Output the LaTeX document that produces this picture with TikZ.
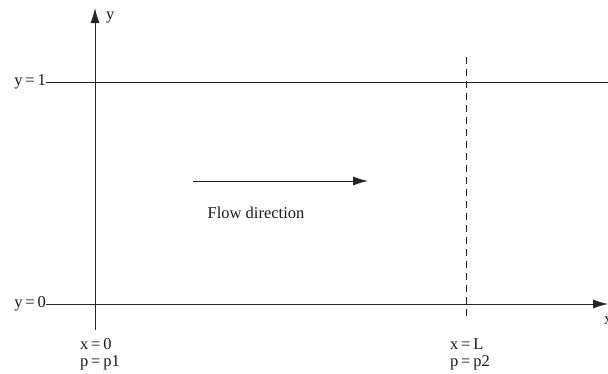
\documentclass[tikz,border=0pt]{standalone}
\usepackage{fontspec}
\setmainfont{Liberation Serif}
\usetikzlibrary{arrows.meta}
\begin{document}
\begin{tikzpicture}[x=1pt,y=-1pt,
  axis/.style={line width=0.9pt,draw=black!85},
  tip/.style={-{Latex[length=15pt,width=9pt]}},
  lbl/.style={font=\fontsize{16.5}{19}\selectfont,inner sep=0pt,text=black!90}]
\useasboundingbox (0,0) rectangle (608,373);
% nodes
\coordinate (ybot) at (95,330);
\coordinate (ytop) at (95,8);
\coordinate (y1l) at (46,82);
\coordinate (y1r) at (608,82);
\coordinate (y0l) at (46,304);
\coordinate (y0r) at (608,304);
\coordinate (dtop) at (466,57);
\coordinate (dbot) at (466,318);
\coordinate (fa) at (193,181);
\coordinate (fb) at (368,181);
\node[lbl,anchor=west] (ylab) at (106,17) {y};
\node[lbl,anchor=east] (y1lab) at (46,82) {y\,=\,1};
\node[lbl,anchor=east] (y0lab) at (46,304) {y\,=\,0};
\node[lbl,anchor=west] (xlab) at (604,321) {x};
\node[lbl] (flow) at (256,213) {Flow direction};
\node[lbl,anchor=west] (x0) at (80,344) {x\,=\,0};
\node[lbl,anchor=west] (p1) at (80,363) {p\,=\,p1};
\node[lbl,anchor=west] (xL) at (450,344) {x\,=\,L};
\node[lbl,anchor=west] (p2) at (450,363) {p\,=\,p2};
% lines
\draw[axis,tip] (ybot) -- (ytop);
\draw[axis] (y1l) -- (y1r);
\draw[axis,tip] (y0l) -- (y0r);
\draw[axis,dashed,dash pattern=on 7pt off 5pt] (dtop) -- (dbot);
\draw[axis,tip] (fa) -- (fb);
\end{tikzpicture}
\end{document}
